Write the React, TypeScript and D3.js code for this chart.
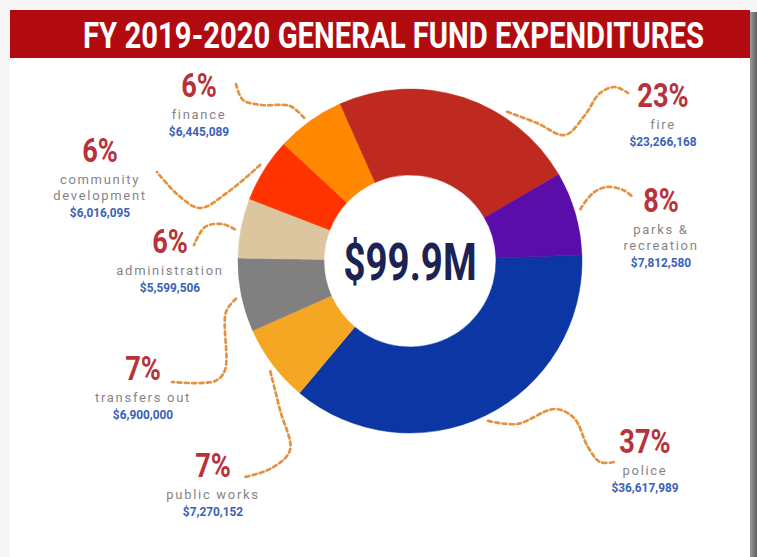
import React, { useLayoutEffect, useRef, useState } from 'react';
import * as d3 from 'd3';

// data
const categories = ['police', 'public works', 'transfers out', 'administration', 'community development', 'finance', 'fire', 'parks & recreation'];
const amounts = [36617989, 7270152, 6900000, 5599506, 6016095, 6445089, 23266168, 7812580];
const nameLines = [['police'], ['public works'], ['transfers out'], ['administration'], ['community', 'development'], ['finance'], ['fire'], ['parks &', 'recreation']];
const colors = ['#0B36A3', '#F5A623', '#808080', '#DCC6A0', '#FF3300', '#FF8800', '#BF2A20', '#5B0DAA'];
const title = 'FY 2019-2020 GENERAL FUND EXPENDITURES';
const totalLabel = '$99.9M';

// layout: label centre x, percent baseline y, where the connector starts in the slice (0..1), and its bends
const labelX = [645, 213, 143, 170, 100, 199, 663, 661];
const labelY = [453, 477, 380, 253, 162, 97, 107, 212];
const anchorT = [0.5, 0.45, 0.47, 0.46, 0.53, 0.46, 0.68, 0.47];
const bends: [number, number][][] = [
  [[517, 424], [555, 409], [574, 418], [588, 447], [600, 462], [615, 462]],
  [[280, 410], [290, 450], [272, 468], [245, 477]],
  [[226, 312], [225, 370], [215, 381], [172, 382]],
  [[222, 224], [205, 227], [194, 245]],
  [[228, 192], [200, 208], [178, 195], [157, 172]],
  [[290, 106], [262, 105], [243, 100], [236, 84]],
  [[537, 123], [565, 135], [585, 115], [600, 93], [615, 87], [628, 93]],
  [[593, 193], [607, 187], [623, 190], [633, 197]],
];

const W = 757;
const H = 557;
const cx = 410;
const cy = 261;
const outerR = 172;
const innerR = 86;
const titleWidth = 621;
const lineGap = 15.5;

const App: React.FC = () => {
  const titleRef = useRef<SVGTextElement | null>(null);
  const [titleScale, setTitleScale] = useState(0.8);

  useLayoutEffect(() => {
    if (titleRef.current) {
      const w = titleRef.current.getComputedTextLength();
      if (w > 0) setTitleScale(titleWidth / w);
    }
  }, []);

  const total = d3.sum(amounts);
  const start = (88 / 180) * Math.PI;
  const pie = d3.pie<number>().sort(null).startAngle(start).endAngle(start + 2 * Math.PI);
  const arcs = pie(amounts);
  const arc = d3.arc<d3.PieArcDatum<number>>().innerRadius(innerR).outerRadius(outerR);
  const fmt = d3.format('$,');
  const line = d3.line<[number, number]>().curve(d3.curveCatmullRom.alpha(0.5));

  return (
    <svg width={W} height={H} style={{ position: 'absolute', left: 0, top: 0 }}>
      <defs>
        <linearGradient id="shade" x1="0" x2="1" y1="0" y2="0">
          <stop offset="0" stopColor="#9a9a9a" />
          <stop offset="1" stopColor="#5e5e5e" />
        </linearGradient>
      </defs>
      <rect width={W} height={H} fill="#f6f6f6" />
      <rect x={750} y={12} width={7} height={H} fill="url(#shade)" />
      <rect x={10} y={10} width={740} height={H} fill="#ffffff" />
      <rect x={10} y={10} width={740} height={48} fill="#B20B0F" />
      <text ref={titleRef} transform={`translate(83,48) scale(${titleScale},1)`} fill="#fff" fontFamily="Roboto" fontWeight={700} fontSize={37}>
        {title}
      </text>

      <g transform={`translate(${cx},${cy})`}>
        {arcs.map((a, i) => (
          <path key={i} d={arc(a) || ''} fill={colors[i]} stroke={colors[i]} strokeWidth={0.5} />
        ))}
        <text transform="scale(0.74,1)" x={0} y={19} textAnchor="middle" fill="#1a2353" fontFamily="Roboto" fontWeight={700} fontSize={52}>
          {totalLabel}
        </text>
      </g>

      {arcs.map((a, i) => {
        const ang = a.startAngle + (a.endAngle - a.startAngle) * anchorT[i];
        const r = outerR + 6;
        const p0: [number, number] = [cx + r * Math.sin(ang), cy - r * Math.cos(ang)];
        return (
          <path key={'c' + i} d={line([p0, ...bends[i]]) || ''} fill="none" stroke="#E39240" strokeWidth={2.7} strokeDasharray="4 3.3" strokeLinecap="round" />
        );
      })}

      {categories.map((c, i) => {
        const pct = Math.round((amounts[i] / total) * 100);
        const x = labelX[i];
        const y = labelY[i];
        const lines = nameLines[i];
        return (
          <g key={c}>
            <text transform={`translate(${x},${y}) scale(0.8,1)`} textAnchor="middle" fill="#B8323A" fontFamily="Roboto" fontWeight={700} fontSize={34}>
              {pct}%
            </text>
            {lines.map((l, j) => (
              <text key={j} x={x} y={y + 22 + j * lineGap} textAnchor="middle" fill="#858585" fontFamily="Roboto" fontSize={13} letterSpacing={1.7}>
                {l}
              </text>
            ))}
            <text transform={`translate(${x},${y + 39 + (lines.length - 1) * lineGap}) scale(0.95,1)`} textAnchor="middle" fill="#3A62B8" fontFamily="Roboto" fontWeight={700} fontSize={12.5}>
              {fmt(amounts[i])}
            </text>
          </g>
        );
      })}
    </svg>
  );
};

export default App;
